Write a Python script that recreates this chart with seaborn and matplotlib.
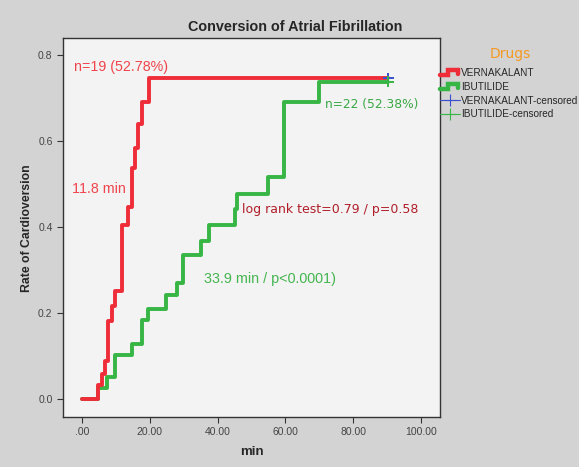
import numpy as np
import pandas as pd
import matplotlib
matplotlib.use("Agg")
import matplotlib.pyplot as plt
import seaborn as sns
from matplotlib.lines import Line2D
from matplotlib.legend_handler import HandlerBase

# --- data ---
verna_time = [0, 4.8, 5.8, 6.8, 7.8, 8.8, 9.7, 11.7, 13.7, 14.7, 15.6, 16.6, 17.6, 19.9, 90.4]
verna_rate = [0, 0.033, 0.058, 0.088, 0.182, 0.216, 0.251, 0.405, 0.447, 0.537, 0.585, 0.641, 0.690, 0.746, 0.746]
ibut_time = [0, 4.8, 7.3, 9.7, 14.7, 17.7, 19.6, 24.8, 27.9, 29.9, 35.0, 37.5, 45.1, 45.8, 55.0, 59.7, 69.9, 90.4]
ibut_rate = [0, 0.025, 0.052, 0.102, 0.127, 0.184, 0.209, 0.242, 0.271, 0.335, 0.368, 0.405, 0.443, 0.477, 0.516, 0.690, 0.738, 0.738]
censor_time = [90.4, 90.4]
censor_rate = [0.746, 0.738]
censor_group = ["VERNAKALANT-censored", "IBUTILIDE-censored"]
drugs = ["VERNAKALANT", "IBUTILIDE"]
xticks = [0, 20, 40, 60, 80, 100]
xtick_labels = [".00", "20.00", "40.00", "60.00", "80.00", "100.00"]
yticks = [0.0, 0.2, 0.4, 0.6, 0.8]

RED = "#ee2d38"
GREEN = "#37b545"
BLUE = "#3a4fd0"

df = pd.DataFrame({
    "min": verna_time + ibut_time,
    "rate": verna_rate + ibut_rate,
    "drug": [drugs[0]] * len(verna_time) + [drugs[1]] * len(ibut_time),
})
cens = pd.DataFrame({"min": censor_time, "rate": censor_rate, "grp": censor_group})

sns.set_style("white")
plt.rcParams["font.family"] = ["Liberation Sans", "DejaVu Sans"]

fig = plt.figure(figsize=(5.79, 4.67), dpi=100)
fig.patch.set_facecolor("#d3d3d3")
ax = fig.add_axes([63 / 579, 1 - 417 / 467, (440 - 63) / 579, (417 - 38) / 467])
ax.set_facecolor("#f3f3f3")

sns.lineplot(data=df, x="min", y="rate", hue="drug", palette={drugs[0]: RED, drugs[1]: GREEN},
             estimator=None, drawstyle="steps-post", linewidth=2.8, ax=ax, legend=False,
             hue_order=[drugs[1], drugs[0]])
sns.scatterplot(data=cens, x="min", y="rate", hue="grp",
                palette={"VERNAKALANT-censored": BLUE, "IBUTILIDE-censored": GREEN},
                marker="+", s=60, linewidth=1.4, ax=ax, legend=False, zorder=5)

ax.set_xlim(-5.6, 105.6)
ax.set_ylim(-0.042, 0.84)
ax.set_xticks(xticks)
ax.set_xticklabels(xtick_labels)
ax.set_yticks(yticks)
ax.set_yticklabels([f"{v:.1f}" for v in yticks])
ax.tick_params(axis="both", direction="out", length=4, width=0.8, colors="#333333",
               labelsize=7.5, labelcolor="#444444", bottom=True, left=True)
for s in ax.spines.values():
    s.set_color("#333333")
    s.set_linewidth(1.0)

ax.set_xlabel("min", fontsize=9.5, fontweight="bold", va="center")
ax.xaxis.set_label_coords(0.5, (417 - 452) / 379)
ax.set_ylabel("Rate of Cardioversion", fontsize=8.8, fontweight="bold", va="center")
ax.yaxis.set_label_coords((27 - 63) / 377, (417 - 228) / 379)
fig.text(295 / 579, 1 - 27 / 467, "Conversion of Atrial Fibrillation", ha="center", va="center",
         fontsize=10.4, fontweight="bold")

ax.text(-2.3, 0.772, "n=19 (52.78%)", color="#f0444c", fontsize=10.3, va="center")
ax.text(-2.8, 0.488, "11.8 min", color="#f0444c", fontsize=10.3, va="center")
ax.text(71.7, 0.686, "n=22 (52.38%)", color="#3aa845", fontsize=8.8, va="center",
        family=["DejaVu Sans"])
ax.text(47.2, 0.442, "log rank test=0.79 / p=0.58", color="#b01e2a", fontsize=9.0,
        va="center", family=["DejaVu Sans"])
ax.text(36.0, 0.279, "33.9 min / p<0.0001)", color="#45b550", fontsize=10.4, va="center")


class StepHandler(HandlerBase):
    def create_artists(self, legend, orig_handle, xdescent, ydescent, width, height, fontsize, trans):
        x0 = -xdescent
        y0 = -ydescent
        xs = [x0, x0 + 0.4 * width, x0 + 0.4 * width, x0 + 0.92 * width, x0 + 0.92 * width]
        ys = [y0 + 0.15 * height, y0 + 0.15 * height, y0 + 0.8 * height, y0 + 0.8 * height, y0 + 0.3 * height]
        ln = Line2D(xs, ys, color=orig_handle.get_color(), lw=3.2, solid_joinstyle="miter",
                    transform=trans)
        return [ln]


step_red = Line2D([], [], color=RED)
step_green = Line2D([], [], color=GREEN)
handles = [
    step_red,
    step_green,
    Line2D([], [], color=BLUE, lw=0.8, marker="+", markersize=8, markeredgewidth=0.8),
    Line2D([], [], color=GREEN, lw=0.8, marker="+", markersize=8, markeredgewidth=0.8),
]
labels = ["VERNAKALANT", "IBUTILIDE", "VERNAKALANT-censored", "IBUTILIDE-censored"]
leg = fig.legend(handles, labels, loc="upper left", bbox_to_anchor=(440 / 579, 1 - 68 / 467),
                 frameon=False, fontsize=7.2, handlelength=2.0, handletextpad=0.1,
                 labelspacing=0.38, borderaxespad=0, borderpad=0,
                 handler_map={step_red: StepHandler(), step_green: StepHandler()})
fig.text(510 / 579, 1 - 54 / 467, "Drugs", color="#f59a22", fontsize=10, ha="center",
         va="center", family=["DejaVu Sans"])

fig.savefig("out.png", dpi=100, facecolor=fig.get_facecolor())
